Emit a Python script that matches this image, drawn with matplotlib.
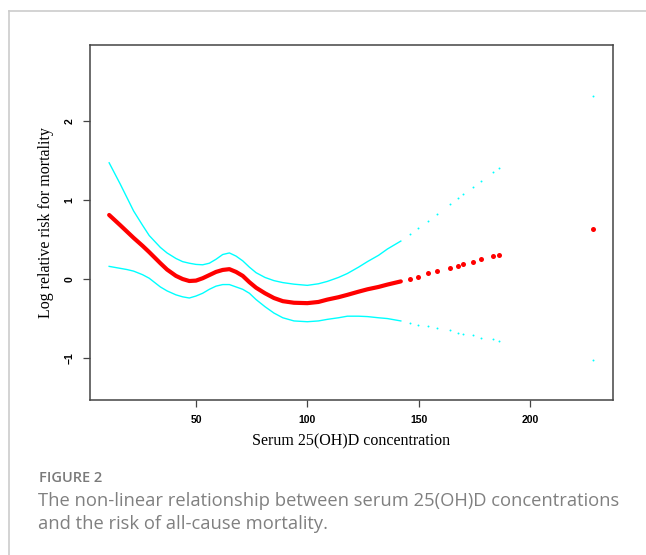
import numpy as np
import matplotlib
matplotlib.use('Agg')
import matplotlib.pyplot as plt
from matplotlib.lines import Line2D

# dense part of the curve
X_DENSE = [11, 16, 19, 22, 26, 29, 34, 37, 41, 44, 47, 50, 53, 56, 59, 62, 65, 68, 71,
           74, 77, 81, 85, 89, 94, 100, 105, 109, 114, 118, 123, 127, 132, 136, 142]
FIT_DENSE = [0.81, 0.68, 0.60, 0.52, 0.42, 0.34, 0.20, 0.12, 0.04, 0.00, -0.025, -0.02,
             0.01, 0.05, 0.09, 0.115, 0.125, 0.09, 0.04, -0.04, -0.11, -0.18, -0.24,
             -0.28, -0.30, -0.305, -0.29, -0.26, -0.23, -0.20, -0.16, -0.13, -0.10,
             -0.07, -0.03]
UPPER_DENSE = [1.47, 1.20, 1.03, 0.86, 0.68, 0.55, 0.40, 0.33, 0.26, 0.22, 0.20, 0.185,
               0.18, 0.20, 0.25, 0.31, 0.33, 0.29, 0.23, 0.15, 0.08, 0.02, -0.02, -0.045,
               -0.065, -0.08, -0.06, -0.03, 0.02, 0.07, 0.15, 0.22, 0.30, 0.38, 0.48]
LOWER_DENSE = [0.16, 0.135, 0.12, 0.10, 0.055, 0.01, -0.10, -0.15, -0.20, -0.225, -0.24,
               -0.215, -0.18, -0.13, -0.09, -0.07, -0.07, -0.10, -0.13, -0.18, -0.26,
               -0.35, -0.43, -0.49, -0.53, -0.54, -0.53, -0.51, -0.49, -0.47, -0.47,
               -0.475, -0.49, -0.50, -0.53]

# sparse observations at high concentrations
X_SPARSE = [146.1, 149.8, 154.3, 158.1, 164.1, 167.8, 170.1, 174.5, 178.0, 183.2, 186.2, 228.4]
FIT_SPARSE = [0.0, 0.03, 0.07, 0.10, 0.14, 0.17, 0.19, 0.22, 0.25, 0.29, 0.31, 0.63]
UPPER_SPARSE = [0.57, 0.65, 0.73, 0.82, 0.95, 1.03, 1.07, 1.16, 1.24, 1.35, 1.41, 2.31]
LOWER_SPARSE = [-0.56, -0.58, -0.60, -0.62, -0.65, -0.68, -0.69, -0.71, -0.74, -0.76,
                -0.78, -1.03]

X_TICKS = [50, 100, 150, 200]
Y_TICKS = [-1, 0, 1, 2]

W, H = 646, 555
RED = '#ff0000'
CYAN = '#00ffff'
SERIF = ['Liberation Serif', 'DejaVu Serif']
SANS = ['Liberation Sans', 'DejaVu Sans']
CAPTION = ['Open Sans', 'DejaVu Sans']

fig = plt.figure(figsize=(W / 100, H / 100), dpi=100)

# card border (top and left only)
fig.add_artist(Line2D([9 / W, 1], [1 - 11 / H, 1 - 11 / H], color='#cccccc', lw=1.2))
fig.add_artist(Line2D([9 / W, 9 / W], [0, 1 - 11 / H], color='#cccccc', lw=1.2))

ax = fig.add_axes([90 / W, 1 - 400 / H, (613 - 90) / W, (400 - 45) / H])

ax.plot(X_DENSE, UPPER_DENSE, color=CYAN, lw=1.0)
ax.plot(X_DENSE, LOWER_DENSE, color=CYAN, lw=1.0)
ax.plot(X_DENSE, FIT_DENSE, color=RED, lw=3.0, solid_capstyle='round',
        solid_joinstyle='round')

ax.plot(X_SPARSE, UPPER_SPARSE, ls='none', marker='o', ms=1.4, color=CYAN, mew=0)
ax.plot(X_SPARSE, LOWER_SPARSE, ls='none', marker='o', ms=1.4, color=CYAN, mew=0)
ax.plot(X_SPARSE, FIT_SPARSE, ls='none', marker='o', ms=3.6, color=RED, mew=0)

ax.set_xlim(2.4, 237.3)
ax.set_ylim(-1.53, 2.96)

for s in ax.spines.values():
    s.set_color('#444444')
    s.set_linewidth(1.1)

ax.set_xticks(X_TICKS)
ax.set_yticks(Y_TICKS)
ax.tick_params(length=5, width=0.9, color='#444444', pad=6)
for lab in ax.get_xticklabels():
    lab.set_fontfamily(SANS)
    lab.set_fontweight('bold')
    lab.set_fontsize(7.5)
for lab in ax.get_yticklabels():
    lab.set_fontfamily(SANS)
    lab.set_fontweight('bold')
    lab.set_fontsize(7.5)
    lab.set_rotation(90)
    lab.set_va('center')

ax.set_xlabel('Serum 25(OH)D concentration', family=SERIF, fontsize=11.5, labelpad=6)
ax.set_ylabel('Log relative risk for mortality', family=SERIF, fontsize=11.5, labelpad=8)

# figure caption
fig.text(39 / W, 1 - 478 / H, 'FIGURE 2', family=CAPTION, fontweight='semibold',
         fontsize=10.5, color='#7a7a7a', va='center', ha='left')
fig.text(38 / W, 1 - 501 / H, 'The non-linear relationship between serum 25(OH)D concentrations',
         family=CAPTION, fontsize=13.2, color='#808080', va='center', ha='left')
fig.text(38 / W, 1 - 524 / H, 'and the risk of all-cause mortality.',
         family=CAPTION, fontsize=13.2, color='#808080', va='center', ha='left')

fig.savefig('out.png', dpi=100)
